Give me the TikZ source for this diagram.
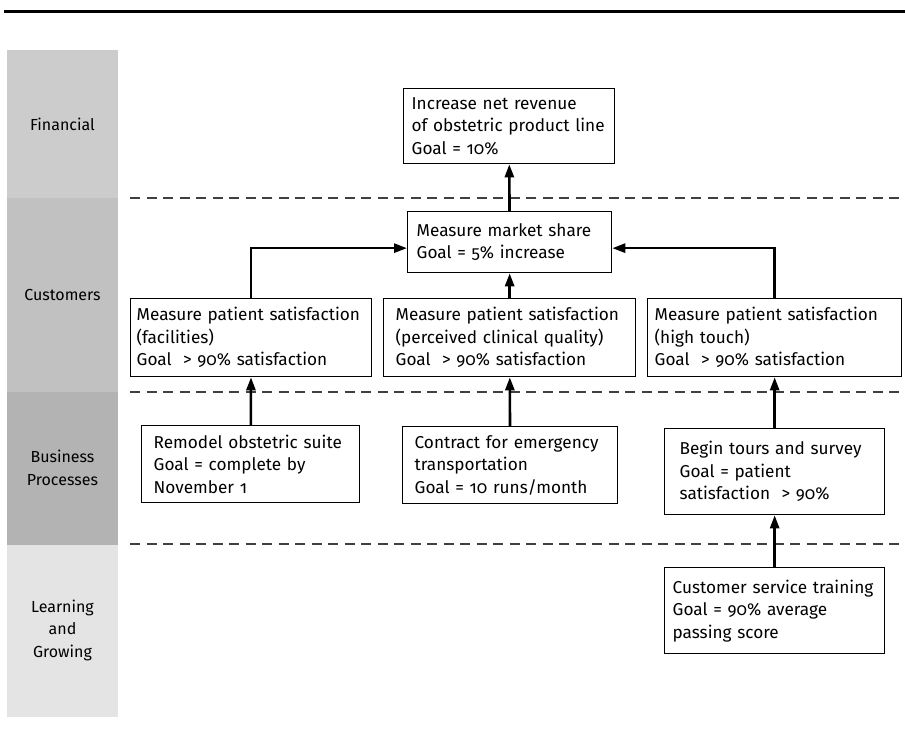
\documentclass[tikz,border=0pt]{standalone}
\usepackage{fontspec}
\setmainfont{Fira Sans}[Numbers=OldStyle]
\usetikzlibrary{arrows.meta, positioning}
\definecolor{finband}{HTML}{CCCCCC}
\definecolor{cusband}{HTML}{C1C1C1}
\definecolor{busband}{HTML}{B3B3B3}
\definecolor{lrnband}{HTML}{E4E4E4}
\definecolor{sepgray}{HTML}{404040}
\tikzset{
    goalbox/.style={draw, line width=1.3pt, anchor=north west, align=left,
        font=\fontsize{17.2}{22.5}\selectfont},
    bandlabel/.style={align=center, font=\fontsize{16}{22.5}\selectfont},
    uparrow/.style={line width=2.6pt, -{Triangle[length=13pt, width=9pt]}},
    sepline/.style={draw=sepgray, line width=1.6pt, dash pattern=on 10pt off 6.5pt},
}

\begin{document}
\begin{tikzpicture}[x=1pt, y=-1pt]
    \useasboundingbox (0,0) rectangle (905,743);
    \draw[line width=3pt] (4,12) -- (905,12);

    \fill[finband] (7,50) rectangle (118,198);
    \fill[cusband] (7,198) rectangle (118,392);
    \fill[busband] (7,392) rectangle (118,545);
    \fill[lrnband] (7,545) rectangle (118,717);
    \node[bandlabel] (fin) at (62.5,124) {Financial};
    \node[bandlabel] (cus) at (62.5,295) {Customers};
    \node[bandlabel] (bus) at (62.5,468) {Business\\Processes};
    \node[bandlabel] (lrn) at (62.5,630) {Learning\\and\\Growing};

    \draw[sepline] (130,198) -- (905,198);
    \draw[sepline] (130,392) -- (905,392);
    \draw[sepline] (130,544) -- (905,544);

    \node[goalbox, text width=195pt, inner xsep=8pt, minimum height=75pt] (rev) at (403,88)
        {Increase net revenue\\of obstetric product line\\Goal = 10\%};
    \node[goalbox, text width=186pt, inner xsep=9pt, minimum height=61pt] (share) at (407,211)
        {Measure market share\\Goal = 5\% increase};

    \node[goalbox, text width=229pt, inner xsep=6pt, minimum height=78pt] (fac) at (130,298)
        {Measure patient satisfaction\\(facilities)\\Goal~~> 90\% satisfaction};
    \node[goalbox, text width=228pt, inner xsep=12pt, minimum height=78pt] (clin) at (383,298)
        {Measure patient satisfaction\\(perceived clinical quality)\\Goal~~> 90\% satisfaction};
    \node[goalbox, text width=240pt, inner xsep=7pt, minimum height=78pt] (touch) at (647,298)
        {Measure patient satisfaction\\(high touch)\\Goal~~> 90\% satisfaction};

    \node[goalbox, text width=194pt, inner xsep=12pt, minimum height=77pt] (remodel) at (141,425)
        {Remodel obstetric suite\\Goal = complete by\\November 1};
    \node[goalbox, text width=191pt, inner xsep=12pt, minimum height=77pt] (contract) at (402,426)
        {Contract for emergency\\transportation\\Goal = 10 runs/month};
    \node[goalbox, text width=190pt, inner xsep=15pt, minimum height=86pt] (tours) at (664,428)
        {Begin tours and survey\\Goal = patient\\satisfaction~~> 90\%};

    \node[goalbox, text width=204pt, inner xsep=8pt, minimum height=86pt] (train) at (664,567)
        {Customer service training\\Goal = 90\% average\\passing score};

    \draw[uparrow] (share) -- (rev);
    \draw[uparrow] (clin) -- (share);
    \draw[uparrow] (fac.north) |- ([yshift=-6pt]share.west);
    \draw[uparrow] (touch.north) |- ([yshift=-6pt]share.east);
    \draw[uparrow] (remodel) -- (fac);
    \draw[uparrow] (contract) -- (clin);
    \draw[uparrow] (tours) -- (touch);
    \draw[uparrow] (train) -- (tours);
\end{tikzpicture}
\end{document}
